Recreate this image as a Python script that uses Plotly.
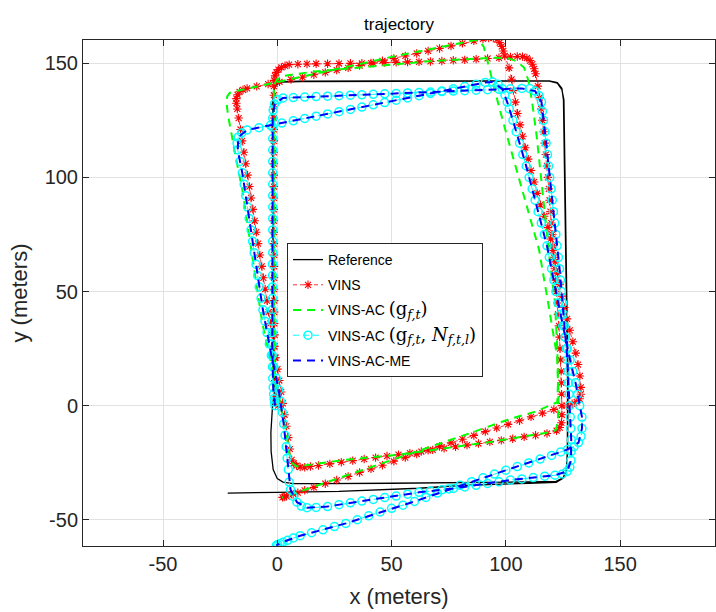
import plotly.graph_objects as go

# ---------------- data (meters) ----------------
ref_x = [-1.0, -1.6, -1.8, -2.0, -2.0, -1.7, -0.5, 2, 10, 50, 100, 119, 122.5, 124.5, 125.2, 125.5, 126, 126.5, 127, 126.9, 126.5, 125.2, 122, 110, 80, 50, 20, 7, 2.5, 0, -1.8, -2.7, -2.8, -2.2, -1.3, -1.6, -1.9, -2.0, -2.0, -1.7, -0.5, 2, 10, 50, 100, 119, 122.5, 124.5, 125.4, 125.8, 126.3, 126.8, 127.2, 127, 126.5, 125, 122, 110, 90, 80, 62, 40, 27, 0, -21.7]
ref_y = [0, 30, 70, 110, 132, 137.5, 140.5, 142, 142.2, 142.3, 142.4, 142.3, 141.5, 139, 134, 110, 80, 40, 10, -20, -28, -31.5, -33.2, -33.4, -33.8, -34.0, -34.2, -34.2, -33.5, -32, -28, -20, -11.8, -2, 7, 30, 70, 110, 132, 137.5, 140.5, 141.8, 142, 142.1, 142.3, 142.2, 141.3, 138.5, 134, 110, 80, 40, 10, -20, -28, -31.8, -33.6, -34, -34.6, -35.0, -36.2, -37.2, -37.6, -38.0, -38.3]

vins_x = [0.3, 0.0, -0.3, -0.6, -0.9, -1.0, -1.1, -1.2, -1.2, -1.3, -1.3, -1.3, -1.4, -1.4, -1.4, -1.4, -1.5, -1.5, -1.5, -1.5, -1.5, -1.5, -1.5, -1.5, -1.5, -1.5, -1.5, -1.5, -1.5, -1.5, -1.5, -1.4, -1.0, -0.4, 0.5, 1.8, 3.4, 5.2,
          9, 13, 17, 22, 27, 32, 37, 42, 47, 52, 57, 62, 67, 72, 77, 82, 87, 92, 97, 102, 105, 107.3, 109.2, 110.6, 111.6, 112.4, 113.0,
          114.0, 114.8, 115.4, 116.0, 116.5, 117.0, 117.5, 118.0, 118.4, 118.8, 119.1, 119.5, 119.9, 120.3, 120.6, 121.0, 121.4, 121.8, 122.1, 122.5, 122.8, 123.2, 123.5, 123.7, 124.0, 124.2, 124.3, 124.4, 124.5, 124.5, 124.3, 123.6, 122.2,
          118, 113, 108, 103, 98, 93, 88, 83, 78, 73, 68, 63, 58, 53, 48, 43, 38, 33, 28, 23, 18, 14.5, 12.0, 10.0, 8.4, 7.2, 6.3,
          5.5, 4.8, 4.0, 3.2, 2.4, 1.7, 0.9, 0.1, -0.7, -1.4, -2.2, -3.0, -3.8, -4.5, -5.3, -6.1, -6.8, -7.6, -8.4, -9.2, -9.9, -10.7, -11.5, -12.2, -13.0, -13.8, -14.6, -15.4, -16.1, -16.9, -17.5, -17.9, -17.9, -17.4, -16.5, -15.0, -13.2,
          -9, -4, 1, 6, 11, 16, 21, 26, 31, 36, 41, 46, 51, 56, 61, 66, 71, 76, 81, 86, 90, 92.5, 94.5, 96.1, 97.3, 98.2, 98.9, 99.5,
          101.4, 102.5, 103.3, 104.2, 105.1, 106.2, 107.3, 108.5, 109.8, 111.0, 112.4, 113.7, 115.1, 116.8, 118.4, 119.6, 120.6, 121.6, 122.6, 123.5, 124.4, 125.6, 126.8, 128.0, 129.3, 130.6, 131.6, 132.4, 132.8, 132.8, 132.3, 131.0, 129.0, 126.5,
          121, 116, 111, 106, 101, 96, 91, 86, 81, 76, 71, 66, 61, 56, 51, 46, 41, 36, 31, 26, 21, 16, 12, 9, 7, 5.3, 4, 3, 2.3]
vins_y = [0, 2, 4, 7, 11, 16, 21, 26, 31, 36, 41, 46, 51, 56, 61, 66, 71, 76, 81, 86, 91, 96, 101, 106, 111, 116, 121, 126, 131, 136, 140, 142.5, 144.5, 146.0, 147.2, 148.2, 148.9, 149.4,
          149.6, 149.7, 149.8, 149.8, 149.9, 150.0, 150.0, 150.1, 150.3, 150.4, 150.5, 150.6, 150.8, 151.0, 151.3, 151.5, 151.8, 152.1, 152.4, 152.8, 153.0, 152.9, 152.3, 151.2, 149.6, 147.6, 145.4,
          140, 135, 130, 125, 120, 115, 110, 105, 100, 95, 90, 85, 80, 75, 70, 65, 60, 55, 50, 45, 40, 35, 30, 25, 20, 15, 10, 5, 0, -4, -7.5, -9.6, -11.0,
          -12.2, -13.0, -13.7, -14.5, -15.2, -15.9, -16.6, -17.3, -18.0, -18.7, -19.4, -20.1, -20.8, -21.5, -22.1, -22.8, -23.4, -24.1, -24.8, -25.5, -26.2, -26.7, -27.0, -26.9, -26.3, -25.3, -23.8,
          -19, -14, -9, -4, 1, 6, 11, 16, 21, 26, 31, 36, 41, 46, 51, 56, 61, 66, 71, 76, 81, 86, 91, 96, 101, 106, 111, 116, 121, 126, 130, 132.5, 134.5, 136.2, 137.5, 138.4, 139.0,
          139.9, 140.9, 141.9, 142.9, 143.9, 145.0, 146.0, 147.0, 148.0, 149.0, 150.1, 151.1, 152.1, 153.2, 154.3, 155.4, 156.5, 157.6, 158.7, 159.8, 160.7, 161.1, 161.1, 160.4, 159.1, 157.4, 155.4, 153.2,
          148, 143, 138, 133, 128, 123, 118, 113, 108, 103, 98, 93, 88, 83, 78, 73, 68, 63, 58, 53, 48, 43, 38, 33, 28, 23, 18, 13, 8, 5.0, 3.0, 1.6, 0.8, 0.0,
          -1.7, -3.3, -4.9, -6.6, -8.2, -9.8, -11.4, -13.1, -14.7, -16.3, -17.9, -19.6, -21.2, -22.8, -24.4, -26.1, -27.7, -29.3, -31.0, -32.6, -34.2, -35.8, -37.1, -38.1, -38.8, -39.3, -39.7, -40.0, -40.2]

acg_x = [0.3, -1.0, -1.5, -1.6, -1.8, -1.5, 0, 3, 15, 36, 65, 94, 101, 105, 108, 110, 111.5, 113.5, 115.4, 117.5, 119.5, 121.5, 122.5, 123, 122.8, 122, 120, 107, 94, 53, 30, 12, 8.5, 6.3, 5, 4, 2, 0, -3, -6.6, -10, -13, -15.3, -18, -19.7, -21.5, -22.2, -21.9, -20.8, -19, -7.9, 20, 50, 80, 86.9, 88.5, 90.3, 92.2, 93.9, 97, 100, 105.8, 110, 114.5, 118.5, 121, 122.4, 122.8, 122.5, 113, 101.3, 84, 70, 47.6, 27, 10, 2]
acg_y = [0, 10, 40, 100, 136, 140.5, 143, 144.5, 146.2, 148, 150.8, 152.4, 152.2, 150.8, 148, 142, 133, 118, 99, 80, 61, 45, 25, 5, -6, -10.5, -11.5, -13.6, -15.8, -21.5, -23.7, -26.2, -26.6, -25, -20, -12, -3, 8, 20, 36.4, 59.6, 80, 94.7, 108, 116.7, 127, 132.5, 135.5, 137, 137.6, 140, 146.2, 152.8, 158.8, 160.3, 159.8, 157.3, 150, 143, 131, 120, 99, 84, 68.4, 45, 30, 21.5, 10, 1.5, -2.6, -6, -12.2, -17, -24.5, -31.5, -37.5, -40.3]

acgn_x = [-1.0, -1.2, -1.4, -1.6, -1.8, -2.0, -2.1, -2.2, -2.2, -2.2, -2.2, -2.2, -2.1, -2.1, -2.1, -2.1, -2.0, -2.0, -2.0, -2.0, -2.0, -2.0, -2.0, -2.0, -2.0, -2.0, -2.0, -2.0, -2.0, -1.8, -1.2, 0.2, 2.5,
          7, 12, 17, 22, 27, 32, 37, 42, 47, 52, 57, 62, 67, 72, 77, 82, 87, 92, 97, 102, 107, 110.5, 112.8, 114.5, 115.6,
          116.0, 116.5, 117.1, 117.6, 118.2, 118.7, 119.2, 119.8, 120.3, 120.8, 121.4, 121.9, 122.4, 123.0, 123.5, 123.9, 124.3, 124.8, 125.2, 125.6, 126.0, 126.5, 126.9, 127.2, 127.4, 127.7, 127.9, 128.2, 128.4, 128.6, 128.6, 128.5, 128.0, 126.8, 124.8, 121.5,
          117, 112, 107, 102, 97, 92, 87, 82, 77, 72, 67, 62, 57, 52, 47, 42, 37, 32, 27, 22, 17, 13, 10.5, 8.6, 7.0, 5.8, 5.2,
          4.8, 4.3, 3.9, 3.4, 2.8, 2.2, 1.4, 0.6, -0.4, -1.5, -2.6, -3.5, -4.5, -5.4, -6.3, -7.1, -7.9, -8.6, -9.3, -10.1, -10.8, -11.5, -12.3, -13.0, -13.8, -14.5, -15.3, -16.3, -17.3, -17.6, -17.1, -15.6, -13.2,
          -8, -3, 2, 7, 12, 17, 22, 27, 32, 37, 42, 47, 52, 57, 62, 67, 72, 77, 82, 87, 91, 94.2, 96.6, 98.4, 99.6,
          100.6, 101.5, 103.1, 104.5, 106.0, 107.4, 108.9, 110.2, 111.5, 112.8, 114.1, 115.5, 116.8, 118.0, 119.0, 120.0, 121.0, 121.9, 122.9, 123.9, 124.9, 125.9, 126.9, 128.1, 129.3, 130.5, 131.4, 132.3, 133.3, 133.3, 132.9, 131.8, 129.8, 127.0,
          124, 120, 115, 110, 105, 100, 95, 90, 85, 80, 75, 70, 65, 60, 55, 50, 45, 40, 35, 30, 25, 20, 15, 10, 7, 4.5, 2.5, 1.2, 0.2, -0.4]
acgn_y = [0.0, 1.5, 3.0, 5.0, 8.0, 12.0, 17, 22, 27, 32, 37, 42, 47, 52, 57, 62, 67, 72, 77, 82, 87, 92, 97, 102, 107, 112, 117, 122, 126, 129.5, 132.2, 134.0, 134.8,
          135.0, 135.2, 135.4, 135.6, 135.8, 136.0, 136.2, 136.4, 136.6, 136.8, 137.0, 137.2, 137.4, 137.6, 137.8, 138.0, 138.2, 138.4, 138.6, 138.8, 139.0, 138.9, 137.8, 135.8, 133.0,
          129, 125, 120, 115, 110, 105, 100, 95, 90, 85, 80, 75, 70, 65, 60, 55, 50, 45, 40, 35, 30, 25, 20, 15, 10, 5, 0, -5, -10, -15, -20, -24, -27.0, -28.8, -29.9, -30.5,
          -30.9, -31.5, -32.1, -32.6, -33.4, -34.1, -34.9, -35.6, -36.3, -36.9, -37.4, -38.0, -38.8, -39.6, -40.3, -41.1, -41.8, -42.6, -43.4, -44.2, -44.6, -44.7, -44.0, -42.3, -39.8, -36.8, -33.5,
          -28, -23, -18, -13, -8, -3, 2, 7, 12, 17, 22, 27, 32, 37, 42, 47, 52, 57, 62, 67, 72, 77, 82, 87, 92, 97, 102, 107, 112, 115.0, 117.6, 119.5, 120.8,
          121.8, 122.8, 123.8, 124.8, 125.8, 126.8, 127.8, 128.8, 129.8, 130.8, 131.8, 132.8, 133.8, 134.8, 135.8, 136.8, 137.8, 138.8, 139.8, 140.8, 141.6, 141.8, 140.8, 138.8, 136.0,
          133.0, 130, 125, 120, 115, 110, 105, 100, 95, 90, 85, 80, 75, 70, 65, 60, 55, 50, 45, 40, 35, 30, 25, 20, 15, 10, 5, 0, -5, -10, -13.5, -16.2, -18.0, -19.2,
          -20.3, -21.8, -23.4, -25.1, -26.7, -28.3, -30.0, -31.6, -33.3, -34.9, -36.5, -38.3, -40.2, -42.0, -43.6, -45.0, -46.6, -48.3, -50.0, -51.6, -53.0, -54.4, -55.7, -57.0, -58.0, -59.0, -59.9, -60.5, -60.9, -61.2]

me_x = [-1.0, -1.8, -2.2, -2.0, -2.0, -1.2, 2.5, 50, 107, 112.8, 115.6, 117.1, 120.3, 123.5, 126.9, 127.9, 128.6, 128.5, 126.8, 121.5, 102, 77, 62, 37, 22, 13, 8.6, 5.8, 4.8, 2.8, 0.6, -2.6, -6.3, -10.8, -15.3, -17.3, -17.1, -13.2, 42, 91, 94.2, 98.4, 100.6, 103.1, 108.9, 118, 121.9, 125.9, 128.1, 130.5, 132.3, 133.3, 133.3, 131.8, 127, 124, 100, 60, 30, 10, 4.5, -0.4]
me_y = [0, 8, 25, 70, 126, 132.2, 134.8, 136.7, 139.0, 137.8, 133, 120, 90, 60, 20, 0, -15, -24, -28.8, -30.5, -32.6, -36.3, -38, -41.8, -44.2, -44.7, -42.3, -36.8, -28, -8, 7, 22, 42, 72, 102, 112, 117.6, 120.8, 131.8, 141.6, 141.8, 138.8, 133, 125, 105, 70, 50, 30, 20, 10, 0, -5, -10, -16.2, -19.2, -20.3, -28.3, -42, -51.6, -57, -59, -61.2]

tick_vals = [-50, 0, 50, 100, 150]
tick_text = ["-50", "0", "50", "100", "150"]

MATH = '<span style="font-family:DejaVu Serif;font-size:18px">'
names = [
    "Reference",
    "VINS",
    "VINS-AC " + MATH + "(g<sub><i>f,t</i></sub>)</span>",
    "VINS-AC " + MATH + "(g<sub><i>f,t</i></sub>, <i>N</i><sub><i>f,t,l</i></sub>)</span>",
    "VINS-AC-ME",
]

# ---------------- figure ----------------
fig = go.Figure()
fig.add_trace(go.Scatter(x=ref_x, y=ref_y, mode="lines", name=names[0], legendgroup="a",
                         line=dict(color="black", width=1.3)))
fig.add_trace(go.Scatter(x=vins_x, y=vins_y, mode="lines+markers", name=names[1], legendgroup="b",
                         line=dict(color="#ff0000", width=0.8, dash="4px,3px"),
                         marker=dict(symbol="asterisk-open", size=7, color="#ff0000",
                                     line=dict(color="#ff0000", width=1.1))))
fig.add_trace(go.Scatter(x=acg_x, y=acg_y, mode="lines", name=names[2], legendgroup="c",
                         line=dict(color="#00ff00", width=2, dash="8px,6px")))
fig.add_trace(go.Scatter(x=acgn_x, y=acgn_y, mode="lines+markers", name=names[3], legendgroup="d",
                         line=dict(color="#00ffff", width=1, dash="6px,4px"),
                         marker=dict(symbol="circle-open", size=8, color="#00ffff",
                                     line=dict(color="#00ffff", width=1.5))))
fig.add_trace(go.Scatter(x=me_x, y=me_y, mode="lines", name=names[4], legendgroup="e",
                         line=dict(color="#0000ff", width=2, dash="8px,6px")))

axis_common = dict(
    tickvals=tick_vals, ticktext=tick_text, ticks="inside", ticklen=6, tickwidth=1,
    tickcolor="#262626", showline=True, linecolor="#262626", linewidth=1, mirror="ticks",
    showgrid=True, gridcolor="#e2e2e2", gridwidth=1, zeroline=False,
    tickfont=dict(size=20, color="#262626"), automargin=False,
)

fig.update_layout(
    width=716, height=612,
    margin=dict(l=83, r=1, t=40, b=66),
    paper_bgcolor="white", plot_bgcolor="white",
    font=dict(family="Liberation Sans, Arial, sans-serif", color="#262626"),
    title=dict(text="trajectory", x=0.5, xref="paper", xanchor="center",
               y=1 - 24 / 612, yref="container", yanchor="middle",
               font=dict(size=17, color="black")),
    xaxis=dict(range=[-85.0, 191.5], title=dict(text="x (meters)", font=dict(size=22), standoff=14),
               **axis_common),
    yaxis=dict(range=[-61.5, 160.2], title=dict(text="y (meters)", font=dict(size=22), standoff=10),
               **axis_common),
    legend=dict(x=0.3228, y=0.5988, xanchor="left", yanchor="top",
                bordercolor="#262626", borderwidth=1, bgcolor="white",
                font=dict(size=14, color="black"), traceorder="grouped", tracegroupgap=4),
    showlegend=True,
)

fig.write_html("out.html")
